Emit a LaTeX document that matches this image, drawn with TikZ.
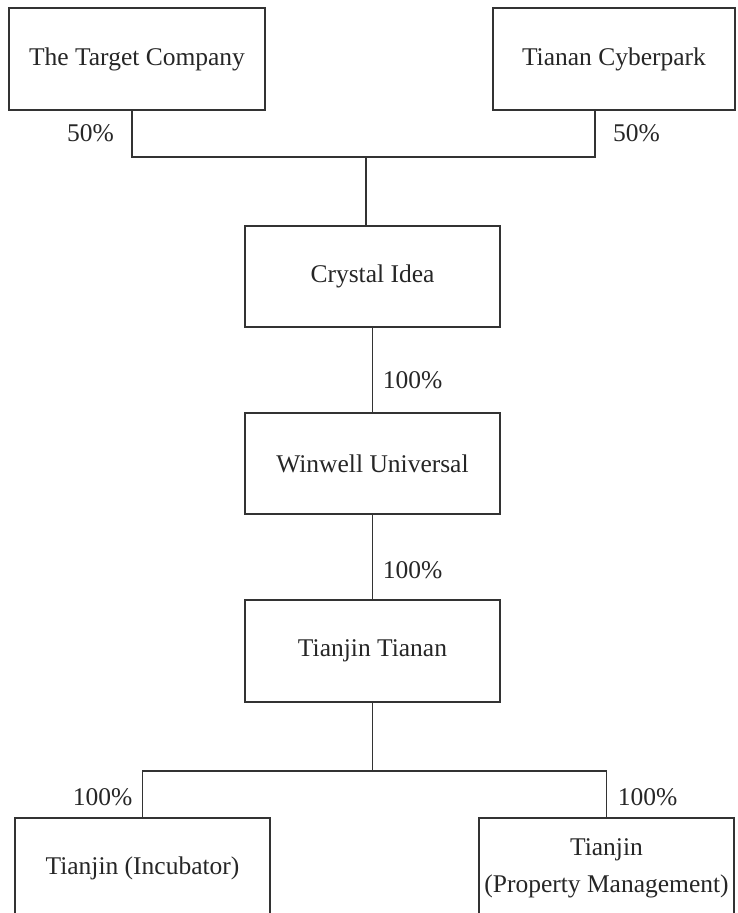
\documentclass[tikz,border=0pt]{standalone}
\usepackage{fontspec}
\setmainfont{Liberation Serif}
\begin{document}
\begin{tikzpicture}[x=1pt,y=-1pt,
  line width=1.1pt, draw=black!80,
  entity/.style={draw=black!80, rectangle, inner sep=0pt, align=center,
    font=\fontsize{25.5}{37}\selectfont, text=black!85},
  pct/.style={inner sep=0pt, font=\fontsize{25.5}{30}\selectfont, text=black!85}]
\useasboundingbox (0,0) rectangle (737,913);
% boxes
\node[entity, minimum width=256pt, minimum height=102pt] (A) at (137,59) {The Target Company};
\node[entity, minimum width=242pt, minimum height=102pt] (B) at (614,59) {Tianan Cyberpark};
\node[entity, minimum width=255pt, minimum height=101pt] (C) at (372.5,276.5) {Crystal Idea};
\node[entity, minimum width=255pt, minimum height=101pt] (D) at (372.5,463.5) {Winwell Universal};
\node[entity, minimum width=255pt, minimum height=102pt] (E) at (372.5,651) {Tianjin Tianan};
\node[entity, minimum width=255pt, minimum height=101pt] (F) at (142.5,868.5) {Tianjin (Incubator)};
\node[entity, minimum width=255pt, minimum height=101pt] (G) at (606.5,868.5) {Tianjin\\(Property Management)};
% junctions
\coordinate (j1) at (366,157);
\coordinate (j2) at (372.5,771);
% connectors
\draw ([xshift=-5pt]A.south) |- (j1) -| ([xshift=-19pt]B.south);
\draw (j1) -- (j1 |- C.north);
\draw (C.south) -- (D.north);
\draw (D.south) -- (E.north);
\draw (E.south) -- (j2);
\draw (F.north) |- (j2) -| (G.north);
% labels
\node[pct] (l1) at (90.5,133) {50\%};
\node[pct] (l2) at (636.5,133) {50\%};
\node[pct] (l3) at (412.5,380) {100\%};
\node[pct] (l4) at (412.5,570) {100\%};
\node[pct] (l5) at (102.5,797) {100\%};
\node[pct] (l6) at (647.5,797) {100\%};
\end{tikzpicture}
\end{document}
